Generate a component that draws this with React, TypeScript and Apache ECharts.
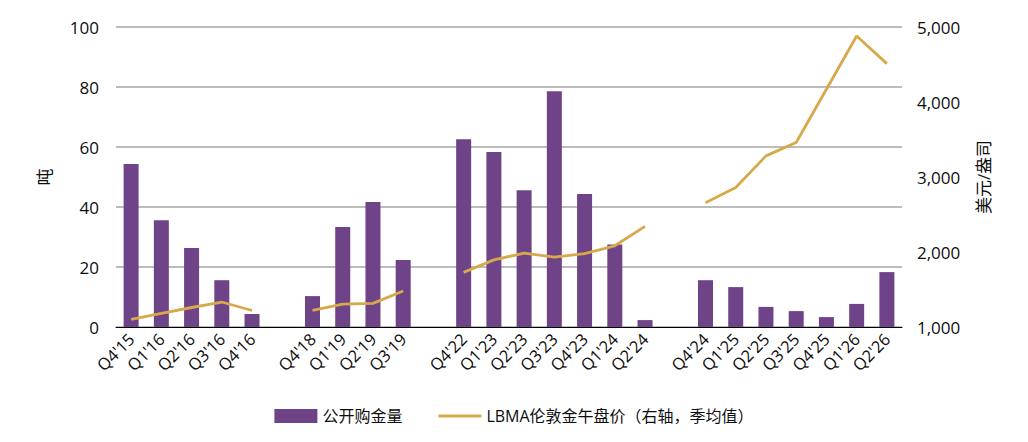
import { useEffect, useRef } from "react";
import * as echarts from "echarts";

// quarters, empty slots are the gaps between periods
const categories = [
    "Q4'15", "Q1'16", "Q2'16", "Q3'16", "Q4'16", " ",
    "Q4'18", "Q1'19", "Q2'19", "Q3'19", "  ",
    "Q4'22", "Q1'23", "Q2'23", "Q3'23", "Q4'23", "Q1'24", "Q2'24", "   ",
    "Q4'24", "Q1'25", "Q2'25", "Q3'25", "Q4'25", "Q1'26", "Q2'26",
];

// 公开购金量, 吨
const purchases = [
    54.3, 35.6, 26.3, 15.6, 4.3, null,
    10.3, 33.3, 41.7, 22.3, null,
    62.6, 58.3, 45.6, 78.6, 44.3, 27.5, 2.3, null,
    15.6, 13.3, 6.7, 5.3, 3.3, 7.7, 18.3,
];

// LBMA 午盘价季均值, 美元/盎司
const goldPrice = [
    1102, 1183, 1260, 1333, 1220, null,
    1222, 1306, 1315, 1479, null,
    1728, 1895, 1985, 1932, 1978, 2083, 2342, null,
    2656, 2860, 3282, 3460, 4170, 4880, 4512,
];

const leftTicks = { min: 0, max: 100, interval: 20 };
const rightTicks = { min: 1000, max: 5000, interval: 1000 };

const FONT = "'Open Sans', 'Noto Sans CJK SC', sans-serif";
const BAR_COLOR = "#6F4387";
const LINE_COLOR = "#D8A94B";
const TEXT_COLOR = "#0d0d0d";

const App = () => {
    const chartRef = useRef<HTMLDivElement>(null);

    useEffect(() => {
        if (!chartRef.current) return;
        const chart = echarts.init(chartRef.current, undefined, { renderer: "svg" });

        chart.setOption({
            animation: false,
            textStyle: { fontFamily: FONT },
            grid: { left: 116, right: 126, top: 27, bottom: 115 },
            legend: {
                left: "center",
                top: 403,
                itemWidth: 43,
                itemHeight: 14,
                itemGap: 36,
                textStyle: { fontFamily: FONT, fontSize: 16, color: TEXT_COLOR },
                data: [
                    { name: "公开购金量", icon: "rect" },
                    // plain stroke, no marker
                    { name: "LBMA伦敦金午盘价（右轴，季均值）", icon: "path://M0 0 L43 0 L43 3 L0 3 Z" },
                ],
            },
            xAxis: {
                type: "category",
                data: categories,
                axisLine: { lineStyle: { color: "#000", width: 1 } },
                axisTick: { interval: 0, length: 6, lineStyle: { color: "#000" } },
                axisLabel: {
                    interval: 0,
                    rotate: 45,
                    margin: 9,
                    fontSize: 16.5,
                    color: TEXT_COLOR,
                    fontFamily: FONT,
                },
            },
            yAxis: [
                {
                    type: "value",
                    ...leftTicks,
                    name: "吨",
                    nameLocation: "middle",
                    nameGap: 63,
                    nameRotate: 90,
                    nameTextStyle: { fontSize: 17, color: TEXT_COLOR, fontFamily: FONT },
                    axisLine: { show: false },
                    axisTick: { show: false },
                    axisLabel: { fontSize: 17, color: TEXT_COLOR, margin: 17, fontFamily: FONT },
                    splitLine: { lineStyle: { color: "#A6A6A6", width: 1.5 } },
                },
                {
                    type: "value",
                    ...rightTicks,
                    name: "美元/盎司",
                    nameLocation: "middle",
                    nameGap: 73,
                    nameRotate: 90,
                    nameTextStyle: { fontSize: 17, color: TEXT_COLOR, fontFamily: FONT },
                    axisLine: { show: false },
                    axisTick: { show: false },
                    axisLabel: {
                        fontSize: 17,
                        color: TEXT_COLOR,
                        margin: 15,
                        fontFamily: FONT,
                        formatter: (v: number) => v.toLocaleString("en-US"),
                    },
                    splitLine: { show: false },
                },
            ],
            series: [
                {
                    name: "公开购金量",
                    type: "bar",
                    data: purchases,
                    barWidth: 15,
                    itemStyle: { color: BAR_COLOR },
                },
                {
                    name: "LBMA伦敦金午盘价（右轴，季均值）",
                    type: "line",
                    yAxisIndex: 1,
                    data: goldPrice,
                    symbol: "none",
                    connectNulls: false,
                    lineStyle: { color: LINE_COLOR, width: 2.8 },
                    itemStyle: { color: LINE_COLOR },
                },
            ],
        });

        return () => {
            chart.dispose();
        };
    }, []);

    return (
        <div
            ref={chartRef}
            style={{
                position: "fixed",
                left: 0,
                top: 0,
                width: "1028px",
                height: "442px",
                background: "#fff",
            }}
        />
    );
};

export default App;
